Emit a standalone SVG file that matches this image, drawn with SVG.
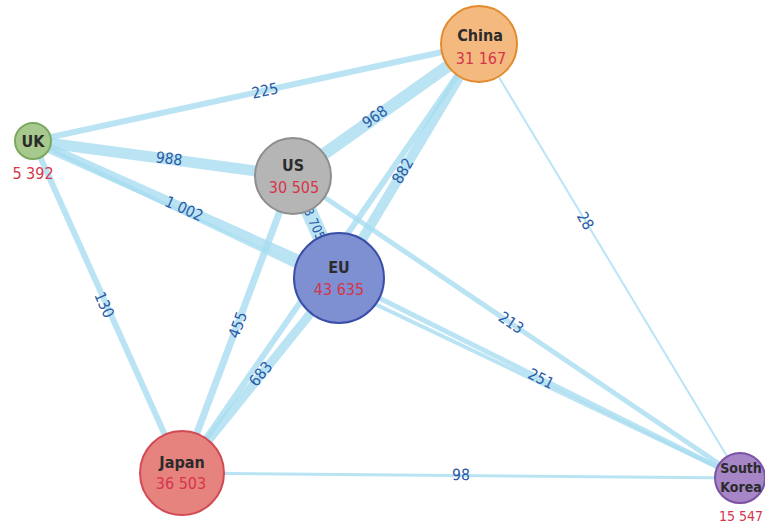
<svg xmlns="http://www.w3.org/2000/svg" width="765" height="530" viewBox="0 0 765 530">
<style>
.e{stroke:#a6dcef;stroke-opacity:0.78;stroke-linecap:butt;fill:none}
.el{font-family:"DejaVu Sans Condensed","Liberation Sans",sans-serif;font-size:15.5px;fill:#2b5aa6;text-anchor:middle}
.nm{font-family:"DejaVu Sans Condensed","Liberation Sans",sans-serif;font-size:16px;font-weight:bold;fill:#2b2b2b;text-anchor:middle}
.num{font-family:"DejaVu Sans Condensed","Liberation Sans",sans-serif;font-size:16px;fill:#d6354b;text-anchor:middle}
.sk{font-size:14px}
.small{font-size:13px}
</style>
<rect width="765" height="530" fill="#ffffff"/>
<g id="connectors">
<line class="e" x1="33" y1="141" x2="479" y2="44" stroke-width="6"/>
<line class="e" x1="33" y1="141" x2="293" y2="176" stroke-width="11"/>
<line class="e" x1="33" y1="141" x2="339" y2="278" stroke-width="10"/>
<line class="e" x1="33" y1="141" x2="182" y2="473" stroke-width="6"/>
<line class="e" x1="33" y1="141" x2="740" y2="478" stroke-width="4"/>
<line class="e" x1="293" y1="176" x2="479" y2="44" stroke-width="12"/>
<line class="e" x1="293" y1="176" x2="339" y2="278" stroke-width="16"/>
<line class="e" x1="293" y1="176" x2="182" y2="473" stroke-width="7"/>
<line class="e" x1="293" y1="176" x2="740" y2="478" stroke-width="5"/>
<line class="e" x1="479" y1="44" x2="339" y2="278" stroke-width="10"/>
<line class="e" x1="479" y1="44" x2="182" y2="473" stroke-width="6"/>
<line class="e" x1="479" y1="44" x2="740" y2="478" stroke-width="2"/>
<line class="e" x1="339" y1="278" x2="182" y2="473" stroke-width="9"/>
<line class="e" x1="339" y1="278" x2="740" y2="478" stroke-width="5"/>
<line class="e" x1="182" y1="473" x2="740" y2="478" stroke-width="3"/>
<text class="el" transform="translate(265,91) rotate(-12.3)" y="5">225</text>
<text class="el" transform="translate(169,159) rotate(7.7)" y="5">988</text>
<text class="el" transform="translate(184,209) rotate(24.1)" y="5">1 002</text>
<text class="el" transform="translate(104,305) rotate(65.8)" y="5">130</text>
<text class="el" transform="translate(375,117) rotate(-35.4)" y="5">968</text>
<text class="el" transform="translate(403,171) rotate(-59.1)" y="5">882</text>
<text class="el small" transform="translate(314.5,224) rotate(65.7)" y="4.5">3 705</text>
<text class="el" transform="translate(238,325) rotate(-69.5)" y="5">455</text>
<text class="el" transform="translate(261,374) rotate(-51.2)" y="5">683</text>
<text class="el" transform="translate(585,221) rotate(58.9)" y="5">28</text>
<text class="el" transform="translate(511,323) rotate(34)" y="5">213</text>
<text class="el" transform="translate(541,379) rotate(26.4)" y="5">251</text>
<text class="el" transform="translate(461,475) rotate(0.5)" y="5">98</text>
</g>
<g id="node-uk">
<circle cx="33" cy="141" r="18" fill="#a8c98d" stroke="#79a85f" stroke-width="2"/>
<text class="nm" x="33" y="147">UK</text>
<text class="num" x="33" y="179">5 392</text>
</g>
<g id="node-china">
<circle cx="479" cy="44" r="38" fill="#f4b97f" stroke="#e38b2c" stroke-width="2"/>
<text class="nm" x="480" y="41">China</text>
<text class="num" x="481" y="64">31 167</text>
</g>
<g id="node-us">
<circle cx="293" cy="176" r="38" fill="#b5b5b5" stroke="#8e8e8e" stroke-width="2"/>
<text class="nm" x="293" y="171">US</text>
<text class="num" x="294" y="193">30 505</text>
</g>
<g id="node-eu">
<circle cx="339" cy="278" r="45" fill="#7e8fd2" stroke="#3c4fa8" stroke-width="2"/>
<text class="nm" x="339" y="273">EU</text>
<text class="num" x="339" y="295">43 635</text>
</g>
<g id="node-japan">
<circle cx="182" cy="473" r="42" fill="#e6837e" stroke="#d24a55" stroke-width="2"/>
<text class="nm" x="182" y="468">Japan</text>
<text class="num" x="181" y="489">36 503</text>
</g>
<g id="node-south-korea">
<circle cx="740" cy="478" r="25" fill="#a686c6" stroke="#7c52a5" stroke-width="2"/>
<text class="nm sk" x="741" y="473">South</text>
<text class="nm sk" x="741" y="492">Korea</text>
<text class="num sk" x="741" y="521">15 547</text>
</g>
</svg>
